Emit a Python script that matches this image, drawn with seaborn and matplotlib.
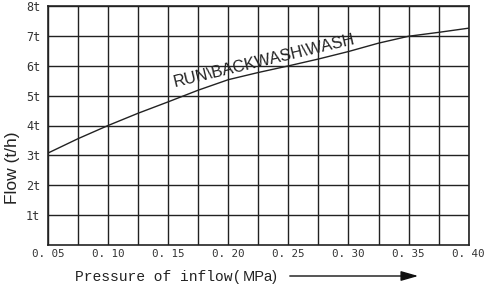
import matplotlib
matplotlib.use("Agg")
import matplotlib.pyplot as plt
import seaborn as sns
import numpy as np
import pandas as pd

pressure = [0.05, 0.075, 0.10, 0.125, 0.15, 0.175, 0.20, 0.225, 0.25, 0.275, 0.30, 0.325, 0.35, 0.375, 0.40]
flow = [3.08, 3.56, 4.0, 4.41, 4.79, 5.18, 5.53, 5.77, 5.99, 6.22, 6.47, 6.75, 6.98, 7.11, 7.25]
x_ticks = [0.05, 0.10, 0.15, 0.20, 0.25, 0.30, 0.35, 0.40]
x_tick_labels = ["0. 05", "0. 10", "0. 15", "0. 20", "0. 25", "0. 30", "0. 35", "0. 40"]
y_ticks = [1, 2, 3, 4, 5, 6, 7, 8]
y_tick_labels = ["1t", "2t", "3t", "4t", "5t", "6t", "7t", "8t"]
curve_label = "RUN\\BACKWASH\\WASH"

sns.set_theme(style="white")
plt.rcParams["font.family"] = ["Liberation Sans", "DejaVu Sans"]

W, H = 488, 285
fig = plt.figure(figsize=(W / 100, H / 100), dpi=100)
ax = fig.add_axes([48 / W, 1 - 245.3 / H, (468.7 - 48) / W, (245.3 - 5.7) / H])

df = pd.DataFrame({"pressure": pressure, "flow": flow})
sns.lineplot(data=df, x="pressure", y="flow", ax=ax, color="#222222", linewidth=1.0)

ax.set_xlim(0.05, 0.40)
ax.set_ylim(0, 8)
ax.set_xticks(x_ticks)
ax.set_xticklabels(x_tick_labels, family="DejaVu Sans Mono", fontsize=7.8, color="#333333")
ax.set_yticks(y_ticks)
ax.set_yticklabels(y_tick_labels, family="DejaVu Sans Mono", fontsize=8.5, color="#333333")
ax.set_xticks(np.arange(0.075, 0.40, 0.05), minor=True)
ax.tick_params(axis="x", which="both", length=0, pad=2.5)
ax.tick_params(axis="y", length=0, pad=5.5)
ax.grid(True, which="both", color="#222222", linewidth=1.0)
ax.set_xlabel("")
ax.set_ylabel("")
for s in ax.spines.values():
    s.set_color("#222222")
    s.set_linewidth(1.2)

ax.text(0.155, 5.30, curve_label, rotation=13.5, rotation_mode="anchor",
        ha="left", va="baseline", fontsize=11.8, color="#222222")

fig.text(12 / W, 1 - 168 / H, "Flow (t/h)", rotation=90, ha="center", va="center",
         fontsize=12.5, color="#222222")
fig.text(75 / W, 1 - 277 / H, "Pressure of inflow(", family="Liberation Mono",
         fontsize=10.5, ha="left", va="center", color="#222222")
fig.text(243 / W, 1 - 277 / H, "MPa)", fontsize=10.5, ha="left", va="center", color="#222222")
fig.patches.append(matplotlib.patches.FancyArrowPatch(
    (287 / W, 1 - 276 / H), (421 / W, 1 - 276 / H), transform=fig.transFigure,
    arrowstyle="-|>,head_length=7,head_width=2", mutation_scale=1.5,
    color="#111111", linewidth=1.0))

fig.savefig("out.png", dpi=100)
